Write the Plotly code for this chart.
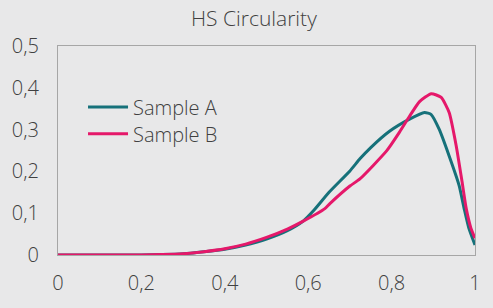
import plotly.graph_objects as go

x_a = [0, 0.1, 0.2, 0.25, 0.3, 0.35, 0.4, 0.45, 0.5, 0.55, 0.588, 0.612, 0.65, 0.7, 0.724, 0.75,
       0.795, 0.843, 0.879, 0.895, 0.914, 0.938, 0.962, 0.974, 0.985, 1.0]
y_a = [0, 0, 0, 0.001, 0.003, 0.008, 0.014, 0.024, 0.038, 0.058, 0.081, 0.105, 0.150, 0.201, 0.230, 0.257,
       0.296, 0.325, 0.341, 0.336, 0.301, 0.237, 0.166, 0.111, 0.065, 0.024]

x_b = [0, 0.1, 0.2, 0.25, 0.3, 0.35, 0.4, 0.45, 0.5, 0.55, 0.588, 0.64, 0.652, 0.7, 0.724, 0.788,
       0.819, 0.843, 0.867, 0.895, 0.919, 0.938, 0.955, 0.969, 0.979, 0.99, 1.0]
y_b = [0, 0, 0, 0.001, 0.003, 0.008, 0.015, 0.026, 0.042, 0.062, 0.081, 0.111, 0.123, 0.165, 0.182, 0.249,
       0.294, 0.332, 0.367, 0.386, 0.377, 0.341, 0.261, 0.175, 0.111, 0.065, 0.040]

series_names = ["Sample A", "Sample B"]
x_ticks = [0, 0.2, 0.4, 0.6, 0.8, 1]
y_ticks = [0, 0.1, 0.2, 0.3, 0.4, 0.5]

BG = "#e8e8e9"
FONT = "Open Sans"
LEG_FONT = dict(family=FONT, size=20, color="#404040", weight=300)

fig = go.Figure()
fig.add_trace(go.Scatter(x=x_a, y=y_a, mode="lines", name=series_names[0], legend="legend",
                         line=dict(color="#16717a", width=3, shape="spline", smoothing=0.5)))
fig.add_trace(go.Scatter(x=x_b, y=y_b, mode="lines", name=series_names[1], legend="legend2",
                         line=dict(color="#e5186a", width=3, shape="spline", smoothing=0.5)))

fig.update_layout(
    width=493, height=308,
    margin=dict(l=56, r=17, t=46, b=51),
    paper_bgcolor=BG, plot_bgcolor=BG,
    separators=", ",
    font=dict(family=FONT, size=20, color="#404040", weight=300),
    title=dict(text="HS Circularity", x=0.515, xanchor="center", y=0.94, yanchor="middle",
               font=dict(family=FONT, size=21, color="#404040", weight=300)),
    legend=dict(x=0.06, y=0.708, xanchor="left", yanchor="middle", bgcolor="rgba(0,0,0,0)",
                font=LEG_FONT, itemwidth=40),
    legend2=dict(x=0.06, y=0.58, xanchor="left", yanchor="middle", bgcolor="rgba(0,0,0,0)",
                 font=LEG_FONT, itemwidth=40),
    showlegend=True,
)
fig.update_xaxes(range=[0, 1], tickvals=x_ticks, showgrid=False, zeroline=False,
                 showline=True, linecolor="#a6a6a6", linewidth=1, mirror=True,
                 ticks="", ticklabelstandoff=10)
fig.update_yaxes(range=[0, 0.5], tickvals=y_ticks, showgrid=False, zeroline=False,
                 showline=True, linecolor="#a6a6a6", linewidth=1, mirror=True,
                 ticks="", ticklabelstandoff=14)

fig.write_html("out.html")
